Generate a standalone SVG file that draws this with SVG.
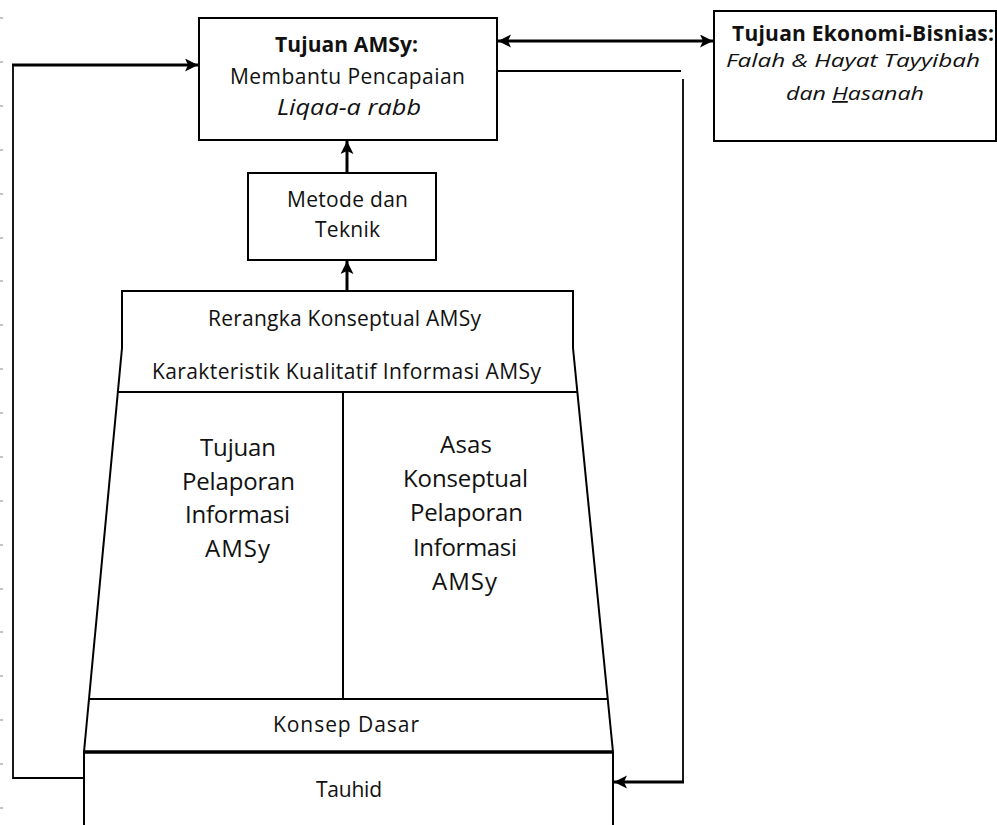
<svg xmlns="http://www.w3.org/2000/svg" width="997" height="825" viewBox="0 0 997 825">
  <defs>
    <style>
      .box { fill: #fff; stroke: #000; stroke-width: 2; }
      .edge { fill: none; stroke: #000; stroke-width: 2; }
      .thin { fill: none; stroke: #000; stroke-width: 1.8; }
      .thick { fill: none; stroke: #000; stroke-width: 3; }
      .t { font-family: "Open Sans", "Noto Sans", "DejaVu Sans", sans-serif; fill: #111; font-size: 21px; }
      .b { font-weight: bold; }
      .i { font-style: italic; }
      .big { font-size: 24px; }
      .side { font-size: 18px; }
      .tick { fill: #c4c4c4; }
    </style>
    <marker id="arrow" markerUnits="userSpaceOnUse" markerWidth="14" markerHeight="14" refX="13" refY="6.5" orient="auto-start-reverse">
      <path d="M0,0 L13,6.5 L0,13 L3,6.5 Z" fill="#000"/>
    </marker>
  </defs>

  <!-- faint margin ticks along the left edge -->
  <g id="ticks">
    <rect class="tick" x="0" y="17" width="3" height="2"/>
    <rect class="tick" x="0" y="61" width="3" height="2"/>
    <rect class="tick" x="0" y="105" width="3" height="2"/>
    <rect class="tick" x="0" y="149" width="3" height="2"/>
    <rect class="tick" x="0" y="193" width="3" height="2"/>
    <rect class="tick" x="0" y="237" width="3" height="2"/>
    <rect class="tick" x="0" y="280" width="3" height="2"/>
    <rect class="tick" x="0" y="324" width="3" height="2"/>
    <rect class="tick" x="0" y="368" width="3" height="2"/>
    <rect class="tick" x="0" y="412" width="3" height="2"/>
    <rect class="tick" x="0" y="456" width="3" height="2"/>
    <rect class="tick" x="0" y="500" width="3" height="2"/>
    <rect class="tick" x="0" y="544" width="3" height="2"/>
    <rect class="tick" x="0" y="588" width="3" height="2"/>
    <rect class="tick" x="0" y="631" width="3" height="2"/>
    <rect class="tick" x="0" y="675" width="3" height="2"/>
    <rect class="tick" x="0" y="719" width="3" height="2"/>
    <rect class="tick" x="0" y="763" width="3" height="2"/>
    <rect class="tick" x="0" y="807" width="3" height="2"/>
  </g>

  <!-- framework body: header block, widening base, columns, base layers -->
  <g id="framework">
    <path class="edge" d="M122,348 L122,291 L573,291 L573,348"/>
    <path class="edge" d="M122,348 L84,752"/>
    <path class="edge" d="M573,348 L613,752"/>
    <line class="edge" x1="118" y1="392" x2="577" y2="392"/>
    <line class="edge" x1="343" y1="392" x2="343" y2="699"/>
    <line class="edge" x1="89" y1="699" x2="608" y2="699"/>
    <text class="t" x="208" y="326" textLength="273" lengthAdjust="spacing">Rerangka Konseptual AMSy</text>
    <text class="t" x="152" y="379" textLength="389" lengthAdjust="spacing">Karakteristik Kualitatif Informasi AMSy</text>
  </g>

  <g id="tujuan-pelaporan">
    <text class="t big" x="200" y="456" textLength="76" lengthAdjust="spacing">Tujuan</text>
    <text class="t big" x="182" y="490" textLength="113" lengthAdjust="spacing">Pelaporan</text>
    <text class="t big" x="185" y="523" textLength="105" lengthAdjust="spacing">Informasi</text>
    <text class="t big" x="205" y="557" textLength="65" lengthAdjust="spacing">AMSy</text>
  </g>

  <g id="asas-konseptual">
    <text class="t big" x="440" y="453" textLength="52" lengthAdjust="spacing">Asas</text>
    <text class="t big" x="403" y="487" textLength="125" lengthAdjust="spacing">Konseptual</text>
    <text class="t big" x="410" y="521" textLength="113" lengthAdjust="spacing">Pelaporan</text>
    <text class="t big" x="413" y="556" textLength="104" lengthAdjust="spacing">Informasi</text>
    <text class="t big" x="432" y="590" textLength="65" lengthAdjust="spacing">AMSy</text>
  </g>

  <g id="konsep-dasar">
    <text class="t" x="273" y="732" textLength="146" lengthAdjust="spacing">Konsep Dasar</text>
  </g>

  <g id="tauhid">
    <line x1="84" y1="752" x2="613" y2="752" stroke="#000" stroke-width="3.5"/>
    <line class="edge" x1="84" y1="752" x2="84" y2="825"/>
    <line class="edge" x1="613" y1="752" x2="613" y2="825"/>
    <text class="t" x="316" y="797" textLength="66" lengthAdjust="spacing">Tauhid</text>
  </g>

  <g id="metode">
    <rect class="box" x="248" y="173" width="188" height="87"/>
    <text class="t" x="287" y="207" textLength="121" lengthAdjust="spacing">Metode dan</text>
    <text class="t" x="315" y="237" textLength="65" lengthAdjust="spacing">Teknik</text>
  </g>

  <g id="tujuan-amsy">
    <rect class="box" x="199" y="18" width="298" height="122"/>
    <text class="t b" x="275" y="52" textLength="143" lengthAdjust="spacing">Tujuan AMSy:</text>
    <text class="t" x="230" y="84" textLength="235" lengthAdjust="spacing">Membantu Pencapaian</text>
    <text class="t i" x="277" y="115" font-size="23" textLength="144" lengthAdjust="spacingAndGlyphs">Liqaa-a rabb</text>
  </g>

  <g id="tujuan-ekonomi">
    <rect class="box" x="714" y="11" width="282" height="130"/>
    <text class="t b" x="732" y="41" font-size="19" textLength="262" lengthAdjust="spacing">Tujuan Ekonomi-Bisnias:</text>
    <text class="t i side" x="726" y="67" textLength="254" lengthAdjust="spacingAndGlyphs">Falah &amp; Hayat Tayyibah</text>
    <text class="t i side" x="786" y="100" textLength="138" lengthAdjust="spacingAndGlyphs">dan <tspan text-decoration="underline">H</tspan>asanah</text>
  </g>

  <g id="connectors">
    <!-- framework up to methods, methods up to goal -->
    <line class="thick" x1="347" y1="291" x2="347" y2="261" marker-end="url(#arrow)"/>
    <line class="thick" x1="347" y1="173" x2="347" y2="141" marker-end="url(#arrow)"/>
    <!-- two-way link between the goals -->
    <line class="thick" x1="498" y1="41" x2="713" y2="41" marker-start="url(#arrow)" marker-end="url(#arrow)"/>
    <!-- feedback loop on the left: Tauhid back to the goal -->
    <path class="thin" d="M84,778 L13,778 L13,65"/>
    <line class="thick" x1="12" y1="65" x2="198" y2="65" marker-end="url(#arrow)"/>
    <!-- loop on the right: goal down to Tauhid -->
    <line class="thin" x1="497" y1="71" x2="681" y2="71"/>
    <line class="thin" x1="683" y1="79" x2="683" y2="782"/>
    <line class="thick" x1="684" y1="782" x2="614" y2="782" marker-end="url(#arrow)"/>
  </g>
</svg>
